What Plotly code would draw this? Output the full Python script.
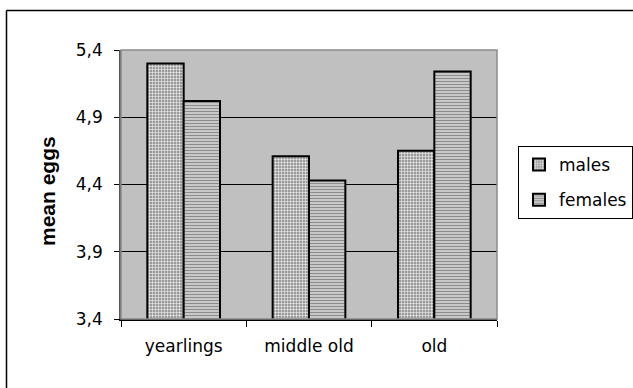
import plotly.graph_objects as go

# Mean egg counts by age class and sex
categories = ["yearlings", "middle old", "old"]
males = [5.30, 4.61, 4.65]
females = [5.02, 4.43, 5.24]
y_ticks = [3.4, 3.9, 4.4, 4.9, 5.4]

W, H = 633, 388
ML, MR, MT, MB = 121, 136, 50, 69
pw, ph = W - ML - MR, H - MT - MB


def px_to_paper_x(px):
    return (px - ML) / pw


def px_to_paper_y(py):
    return 1 - (py - MT) / ph


fig = go.Figure()
fig.add_trace(go.Bar(
    name="males", x=categories, y=males, legendgroup="m",
    marker=dict(
        color="#9a9a9a",
        line=dict(color="black", width=2),
        pattern=dict(shape="+", fgcolor="white", bgcolor="#9a9a9a",
                     size=3, solidity=0.3, fillmode="replace"),
    ),
))
fig.add_trace(go.Bar(
    name="females", x=categories, y=females, legendgroup="f",
    marker=dict(
        color="white",
        line=dict(color="black", width=2),
        pattern=dict(shape="-", fgcolor="#8c8c8c", bgcolor="white",
                     size=3, solidity=0.65, fillmode="replace"),
    ),
))

# outer chart frame (top and left edges visible)
frame = [
    dict(type="line", xref="paper", yref="paper",
         x0=px_to_paper_x(6.5), x1=px_to_paper_x(700),
         y0=px_to_paper_y(10.5), y1=px_to_paper_y(10.5)),
    dict(type="line", xref="paper", yref="paper",
         x0=px_to_paper_x(6.5), x1=px_to_paper_x(6.5),
         y0=px_to_paper_y(10.5), y1=px_to_paper_y(450)),
]
shapes = [dict(s, line=dict(color="black", width=1.5)) for s in frame]
# plot-area border
shapes.append(dict(type="rect", xref="paper", yref="paper",
                   x0=0, x1=1, y0=0, y1=1,
                   line=dict(color="#8a8a8a", width=1.5), layer="above"))

fig.update_layout(
    width=W, height=H,
    margin=dict(l=ML, r=MR, t=MT, b=MB, autoexpand=False),
    paper_bgcolor="white",
    plot_bgcolor="#c0c0c0",
    barmode="group",
    bargap=0.42,
    bargroupgap=0,
    separators=", ",
    font=dict(family="DejaVu Sans", size=15, color="black"),
    shapes=shapes,
    annotations=[dict(
        text="<b>mean eggs</b>", textangle=-90, showarrow=False,
        xref="paper", yref="paper",
        x=px_to_paper_x(47), y=px_to_paper_y(191),
        xanchor="center", yanchor="middle",
        font=dict(family="Liberation Sans", size=21, color="black"),
    )],
    showlegend=True,
    legend=dict(
        xref="container", yref="container",
        x=518 / W, y=1 - 146 / H,
        xanchor="left", yanchor="top",
        bgcolor="white", bordercolor="black", borderwidth=1,
        font=dict(family="DejaVu Sans", size=17),
        tracegroupgap=10, itemwidth=30,
    ),
    xaxis=dict(
        type="category",
        tickson="boundaries",
        ticks="outside", ticklen=6, tickcolor="black", tickwidth=1,
        showline=True, linecolor="black", linewidth=1.5,
        showgrid=False,
        ticklabelstandoff=11,
        tickfont=dict(family="DejaVu Sans", size=17),
    ),
    yaxis=dict(
        range=[3.4, 5.4],
        tickvals=y_ticks,
        tickformat=".1f",
        ticks="outside", ticklen=5, tickcolor="black", tickwidth=1,
        showline=True, linecolor="#555555", linewidth=1.5,
        showgrid=True, gridcolor="black", gridwidth=1,
        zeroline=False,
        ticklabelstandoff=8,
        tickfont=dict(family="DejaVu Sans", size=17),
    ),
)

fig.write_html("out.html")
